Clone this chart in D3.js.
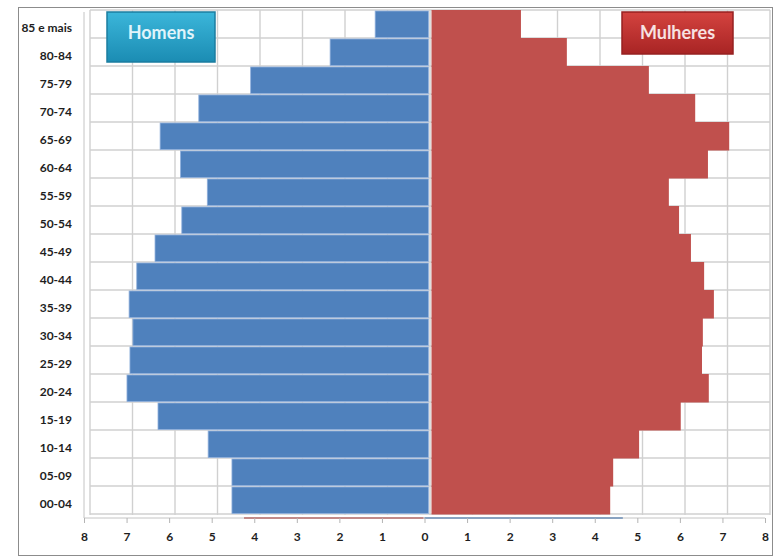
<!DOCTYPE html>
<html>
<head>
<meta charset="utf-8">
<script src="https://cdn.jsdelivr.net/npm/d3@7"></script>
<style>
  body { margin: 0; background: #fff; }
  svg { display: block; font-family: Lato, "Open Sans", sans-serif; }
</style>
</head>
<body>
<div id="chart"></div>
<script>
// Age groups, top to bottom
const ages = ["85 e mais", "80-84", "75-79", "70-74", "65-69", "60-64", "55-59", "50-54",
  "45-49", "40-44", "35-39", "30-34", "25-29", "20-24", "15-19", "10-14", "05-09", "00-04"];

// Percent of population per group
const homens = [1.29, 2.35, 4.22, 5.44, 6.35, 5.87, 5.24, 5.84, 6.47, 6.9, 7.08, 6.99, 7.06, 7.13, 6.4, 5.22, 4.66, 4.66];
const mulheres = [2.14, 3.22, 5.15, 6.24, 7.04, 6.54, 5.62, 5.86, 6.14, 6.45, 6.68, 6.42, 6.4, 6.56, 5.9, 4.92, 4.31, 4.24];

const ticks = d3.range(-8, 9);

const width = 779;
const height = 557;

const svg = d3.select("#chart").append("svg")
  .attr("width", width)
  .attr("height", height);

// Outer frame
svg.append("rect")
  .attr("x", 18.5).attr("y", 7.5)
  .attr("width", 754).attr("height", 548)
  .attr("fill", "#fff")
  .attr("stroke", "#8c8c8c");

// Scales: bars/grid and the (slightly shifted) value axis
const xBar = d3.scaleLinear().domain([-8, 8]).range([90, 770]);
const xAxis = d3.scaleLinear().domain([-8, 8]).range([84, 765]);
const y = d3.scaleBand().domain(ages).range([10, 514]).padding(0);
const yLab = d3.scaleBand().domain(ages).range([14, 518]).padding(0);

// Grid
const grid = svg.append("g").attr("stroke", "#d0d0d0").attr("stroke-width", 1.4);
grid.selectAll("line.v")
  .data(ticks)
  .enter()
  .append("line")
  .attr("x1", d => xBar(d)).attr("x2", d => xBar(d))
  .attr("y1", 10).attr("y2", 515);
grid.selectAll("line.h")
  .data(ages.concat(["__end"]))
  .enter()
  .append("line")
  .attr("x1", xBar(-8)).attr("x2", xBar(8))
  .attr("y1", (d, i) => 10 + i * y.bandwidth())
  .attr("y2", (d, i) => 10 + i * y.bandwidth());

// Men bars (left)
svg.selectAll("rect.men")
  .data(ages)
  .enter()
  .append("rect")
  .attr("class", "men")
  .attr("x", (d, i) => xBar(-homens[i]))
  .attr("y", d => y(d) + 1)
  .attr("width", (d, i) => xBar(0) - 1.5 - xBar(-homens[i]))
  .attr("height", y.bandwidth() - 1.5)
  .attr("fill", "#4f81bd")
  .attr("stroke", "#8fb0dc")
  .attr("stroke-width", 0.8);

// Women bars (right)
svg.selectAll("rect.women")
  .data(ages)
  .enter()
  .append("rect")
  .attr("class", "women")
  .attr("x", xBar(0) + 1.5)
  .attr("y", d => y(d))
  .attr("width", (d, i) => xBar(mulheres[i]) - xBar(0) - 1.5)
  .attr("height", y.bandwidth() + 0.5)
  .attr("fill", "#c0504d");

// Left category axis
const left = svg.append("g")
  .attr("transform", "translate(84,0)")
  .call(d3.axisLeft(yLab).tickSize(0).tickPadding(12));
left.select(".domain").attr("stroke", "#c4c4c4").attr("d", "M0,12V518");
left.selectAll("text")
  .attr("font-family", "Lato, sans-serif")
  .attr("font-size", 12)
  .attr("font-weight", "bold")
  .attr("fill", "#1e1e1e");

// Hidden series remnants along the axis
const last = ages.length - 1;
svg.append("line")
  .attr("x1", xAxis(-mulheres[last])).attr("x2", xAxis(0) - 1)
  .attr("y1", 518).attr("y2", 518)
  .attr("stroke", "#c0504d").attr("stroke-width", 2);
svg.append("line")
  .attr("x1", xAxis(0)).attr("x2", xAxis(homens[last]))
  .attr("y1", 518).attr("y2", 518)
  .attr("stroke", "#4f81bd").attr("stroke-width", 2);

// Bottom value axis
const bottom = svg.append("g")
  .attr("transform", "translate(0,518)")
  .call(d3.axisBottom(xAxis).tickValues(ticks).tickFormat(d => Math.abs(d)).tickSize(5).tickPadding(9));
bottom.select(".domain").attr("stroke", "#c4c4c4").attr("d", "M84,0H765");
bottom.selectAll(".tick line").attr("stroke", "#b4b4b4");
bottom.selectAll("text")
  .attr("font-family", "Lato, sans-serif")
  .attr("font-size", 12)
  .attr("font-weight", "bold")
  .attr("fill", "#1e1e1e");

// Legend boxes
const defs = svg.append("defs");
function grad(id, top, bot) {
  const g = defs.append("linearGradient").attr("id", id)
    .attr("x1", 0).attr("y1", 0).attr("x2", 0).attr("y2", 1);
  g.append("stop").attr("offset", "0%").attr("stop-color", top);
  g.append("stop").attr("offset", "100%").attr("stop-color", bot);
}
grad("gH", "#3bb6da", "#1b8cb3");
grad("gM", "#d4433f", "#a82424");

const legends = [
  { label: "Homens", x: 107, w: 108, h: 50, fill: "url(#gH)", stroke: "#1b7da0", text: "#e0f4fb" },
  { label: "Mulheres", x: 622, w: 111, h: 42, fill: "url(#gM)", stroke: "#962020", text: "#f7e2e2" }
];
legends.forEach(l => {
  svg.append("rect")
    .attr("x", l.x).attr("y", 12)
    .attr("width", l.w).attr("height", l.h)
    .attr("fill", l.fill)
    .attr("stroke", l.stroke).attr("stroke-width", 1.5);
  svg.append("text")
    .attr("x", l.x + l.w / 2).attr("y", 39)
    .attr("text-anchor", "middle")
    .attr("font-family", "Lato, sans-serif")
    .attr("font-size", 18)
    .attr("font-weight", "bold")
    .attr("fill", l.text)
    .text(l.label);
});
</script>
</body>
</html>
